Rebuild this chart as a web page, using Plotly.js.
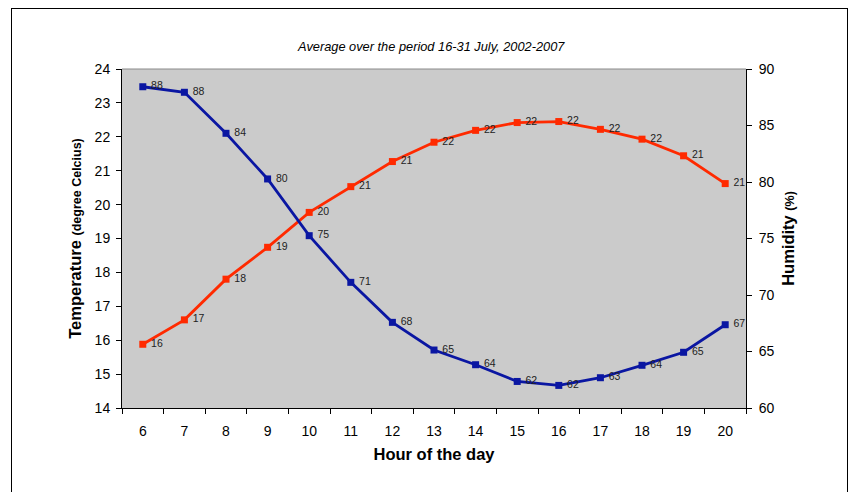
<!DOCTYPE html>
<html>
<head>
<meta charset="utf-8">
<script src="https://cdn.plot.ly/plotly-3.0.1.min.js"></script>
<style>
html,body{margin:0;padding:0;background:#fff;overflow:hidden;}
#frame{position:absolute;left:11px;top:8px;width:837px;height:520px;border:1.5px solid #000;box-sizing:border-box;}
#chart{position:absolute;left:0;top:0;width:854px;height:492px;}
</style>
</head>
<body>
<div id="frame"></div>
<div id="chart"></div>
<script>
const hours = ['6','7','8','9','10','11','12','13','14','15','16','17','18','19','20'];
const temperature = [15.88,16.60,17.80,18.74,19.77,20.53,21.27,21.84,22.19,22.42,22.45,22.22,21.93,21.44,20.62];
const humidity = [88.43,87.94,84.31,80.27,75.25,71.12,67.58,65.13,63.83,62.35,62.0,62.68,63.78,64.93,67.37];
const leftTicks = [14,15,16,17,18,19,20,21,22,23,24];
const rightTicks = [60,65,70,75,80,85,90];

const labelFont = {family:'Liberation Sans, Arial, sans-serif', size:10.5, color:'#222'};

const traces = [
  {
    x: hours, y: temperature, type:'scatter', mode:'lines+markers+text',
    name:'Temperature', yaxis:'y',
    line:{color:'#ff2a00', width:2.8},
    marker:{symbol:'square', size:7, color:'#ff2a00'},
    texttemplate:' %{y:.0f}', textposition:'middle right', textfont:labelFont,
    cliponaxis:false, hoverinfo:'skip'
  },
  {
    x: hours, y: humidity, type:'scatter', mode:'lines+markers+text',
    name:'Humidity', yaxis:'y2',
    line:{color:'#0a16a2', width:2.8},
    marker:{symbol:'square', size:7, color:'#0a16a2'},
    texttemplate:' %{y:.0f}', textposition:'middle right', textfont:labelFont,
    cliponaxis:false, hoverinfo:'skip'
  }
];

const tickFont = {family:'Liberation Sans, Arial, sans-serif', size:14, color:'#000'};

const layout = {
  width:854, height:492,
  margin:{l:122, r:108, t:69, b:84},
  paper_bgcolor:'rgba(0,0,0,0)',
  plot_bgcolor:'#cbcbcb',
  showlegend:false,
  font:{family:'Liberation Sans, Arial, sans-serif'},
  title:{
    text:'<i>Average over the period 16-31 July, 2002-2007</i>',
    font:{family:'Liberation Sans, Arial, sans-serif', size:12.8, color:'#000'},
    x:0.505, xanchor:'center', y:0.905, yanchor:'middle'
  },
  xaxis:{
    type:'category', tickson:'boundaries', range:[-0.5, 14.5],
    ticks:'outside', ticklen:5, tickcolor:'#000', ticklabelstandoff:10,
    showline:true, linecolor:'#000', linewidth:1, mirror:false,
    showgrid:false, zeroline:false,
    tickfont:tickFont,
    title:{text:'<b>Hour of the day</b>', font:{size:16.5, color:'#000'}, standoff:10}
  },
  yaxis:{
    range:[14,24], tickvals:leftTicks,
    ticks:'outside', ticklen:5, tickcolor:'#000', ticklabelstandoff:3,
    showline:true, linecolor:'#000', linewidth:1,
    showgrid:false, zeroline:false,
    tickfont:tickFont,
    title:{text:'<b>Temperature</b> <b><span style="font-size:12.5px">(degree Celcius)</span></b>', font:{size:16.5, color:'#000'}, standoff:8}
  },
  yaxis2:{
    range:[60,90], tickvals:rightTicks, overlaying:'y', side:'right',
    ticks:'outside', ticklen:5, tickcolor:'#000', ticklabelstandoff:4,
    showline:true, linecolor:'#000', linewidth:1,
    showgrid:false, zeroline:false,
    tickfont:tickFont,
    title:{text:'<b>Humidity</b> <b><span style="font-size:12.5px">(%)</span></b>', font:{size:16.5, color:'#000'}, standoff:8}
  },
  shapes:[
    {type:'line', xref:'paper', yref:'paper', x0:0, x1:1, y0:1, y1:1, line:{color:'#8a8a8a', width:1}}
  ]
};

Plotly.newPlot('chart', traces, layout, {displayModeBar:false, staticPlot:true});
</script>
</body>
</html>
